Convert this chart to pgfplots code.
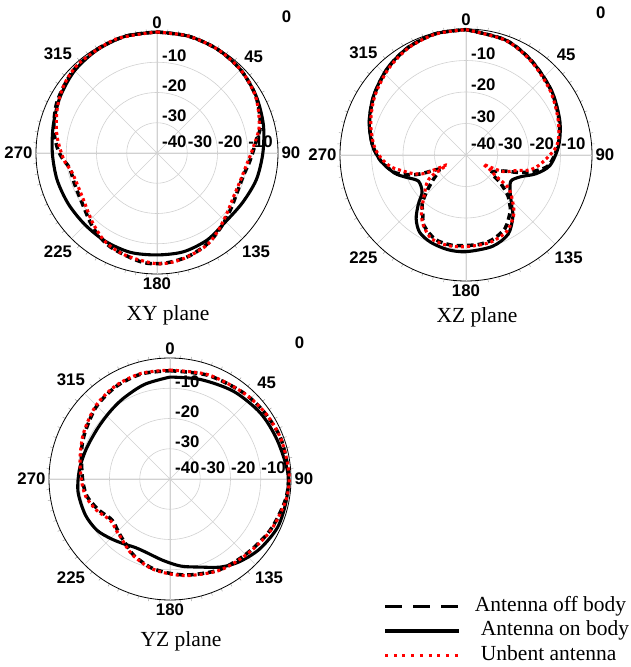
\documentclass[border=0pt]{standalone}
\usepackage{fontspec}
\setmainfont{Liberation Sans}
\newfontfamily\tnr{Liberation Serif}
\usepackage{pgfplots}
\pgfplotsset{compat=1.18}
\usepgfplotslibrary{polar}
\usepackage{pgfplotstable}

% ---------- XY plane ----------
\pgfplotstableread{
a g
0 0
15 0
30 -0.3
45 -1.0
60 -2.2
75 -3.6
90 -5.0
105 -6.0
120 -7.3
135 -7.9
150 -6.8
165 -6.2
180 -6.3
195 -6.0
210 -6.2
225 -6.4
240 -6.2
255 -5.8
270 -5.4
285 -4.5
300 -3.0
315 -1.5
330 -0.6
345 0
360 0
}\xys
\pgfplotstableread{
a g
0 0
15 0
30 -0.3
45 -1.0
60 -2.3
75 -4.6
85 -7.4
95 -9.2
105 -10.5
116 -10.5
127 -9.4
138 -7.8
150 -5.8
163 -4.3
176 -3.5
188 -3.6
206 -5.3
220 -7.4
237 -10.3
250 -10.9
260 -10.7
267 -8.6
273 -7.0
283 -5.0
297 -2.9
314 -1.2
330 -0.4
345 0
360 0
}\xyd
\pgfplotstableread{
a g
0 0
15 0
30 -0.3
45 -1.0
60 -2.4
75 -5.0
87 -8.2
98 -10.2
109 -11.0
119 -10.9
130 -9.6
141 -7.5
152 -5.3
167 -3.9
180 -3.4
197 -4.6
210 -6.0
223 -8.7
240 -11.4
257 -11.2
266 -9.1
280 -6.4
294 -3.9
307 -1.8
320 -0.7
340 0
360 0
}\xyr
% ---------- XZ plane ----------
\pgfplotstableread{
a g
0 -0.2
19 -1.4
35 -3.6
53 -6.0
70 -8.3
84 -10.4
97 -13.1
105 -17.0
111 -21.0
118 -23.3
123 -23.3
131 -21.4
138 -18.3
143 -15.3
152 -11.5
164 -9.8
180 -9.3
191 -9.4
202 -10.1
211 -11.4
218 -14.3
224 -18.2
229 -21.5
235 -22.6
241 -22.8
245 -21.8
250 -19.5
256 -16.5
266 -12.9
276 -10.1
289 -7.5
303 -5.1
318 -2.8
332 -1.2
346 -0.3
360 -0.2
}\xzs
\pgfplotstableread{
a g
0 -0.2
19 -1.4
35 -3.6
53 -6.1
70 -8.5
84 -10.6
97 -13.5
103 -17.5
108 -22.0
113 -27.0
120 -29.5
126 -30.0
129 -26.0
134 -21.5
138 -19.3
142 -17.2
152 -13.6
163 -11.8
172 -11.3
180 -11.3
189 -11.0
200 -11.5
211 -14.0
217 -17.2
222 -19.2
227 -22.9
233 -26.9
238 -29.5
243 -30.0
247 -25.0
250 -21.6
256 -16.8
266 -12.9
276 -10.2
289 -7.6
303 -5.2
318 -2.9
332 -1.2
346 -0.3
360 -0.2
}\xzd
\pgfplotstableread{
a g
0 -0.2
19 -1.5
35 -3.8
53 -6.4
70 -8.8
84 -11.0
96 -15.8
103 -19.1
107 -23.2
114 -27.0
117 -32.0
118 -33.8
122 -30.5
125 -28.8
128 -22.9
136 -18.5
142 -15.5
152 -12.5
165 -11.2
180 -10.9
191 -10.7
202 -11.2
211 -13.8
218 -17.0
227 -22.0
234 -24.6
238.5 -27.2
242.5 -33.1
244.5 -30.3
246 -25.6
250 -22.5
255 -19.8
261 -15.9
268 -13.0
276 -10.6
289 -8.0
303 -5.5
318 -3.2
332 -1.4
346 -0.4
360 -0.2
}\xzr
% ---------- YZ plane ----------
\pgfplotstableread{
a g
0 -6.3
17 -5.6
36 -4.2
54 -3.0
70 -2.3
87 -1.0
100 -0.9
114 -1.0
128 -2.4
140 -4.3
150 -6.4
161 -9.2
173 -11.0
185 -13.0
198 -14.5
207 -14.6
216 -13.6
225 -12.2
235 -10.5
247 -9.6
262 -9.3
276 -9.9
290 -10.6
305 -10.8
318 -10.2
330 -9.2
345 -7.6
360 -6.3
}\yzs
\pgfplotstableread{
a g
0 -4.2
20 -3.5
40 -2.6
55 -1.8
70 -1.0
87 -0.8
100 -1.2
117 -2.8
134 -4.6
151 -5.8
168 -7.6
180 -8.8
192 -10.0
205 -12.0
213 -13.8
219 -14.8
226 -15.8
232 -16.5
237 -16.3
247 -14.2
258 -12.0
268 -11.2
280 -10.3
290 -9.0
300 -7.8
315 -5.8
330 -4.6
345 -4.0
360 -4.2
}\yzd
\pgfplotstableread{
a g
0 -4.0
20 -3.3
40 -2.6
55 -1.7
70 -1.0
87 -0.6
100 -1.0
117 -2.6
134 -4.4
151 -5.6
168 -7.4
180 -8.6
192 -9.8
205 -11.8
213 -13.4
219 -14.6
226 -15.4
232 -16.0
237 -15.8
247 -13.6
258 -11.6
268 -10.8
280 -9.8
290 -8.7
300 -7.4
315 -5.5
330 -4.3
345 -3.8
360 -4.0
}\yzr

\pgfplotsset{
  pol/.style={
    scale only axis, anchor=center,
    xmin=0, xmax=360, ymin=0, ymax=40,
    xtick={0,45,...,315},
    xticklabels={90,45,0,315,270,225,180,135},
    ytick={10,20,30}, yticklabels={},
    xmajorgrids, ymajorgrids,
    major grid style={black!18, line width=0.6pt},
    extra x ticks={0,90,180,270}, extra x tick labels={},
    extra x tick style={grid style={black!35, line width=1.1pt}},
    minor x tick num=8,
    major tick length=0pt,
    minor tick length=3pt,
    minor tick style={black!35, line width=0.5pt},
    ytick style={draw=none},
    axis line style={black, line width=0.8pt},
    clip=false,
    tick label style={font=\bfseries\fontsize{16.8}{16.8}\selectfont},
  },
  on/.style={black, line width=3.1pt, smooth},
  off/.style={black, line width=3.5pt, dash pattern=on 6.5pt off 4pt, smooth},
  unb/.style={red, line width=3.1pt, dash pattern=on 3pt off 3pt, smooth},
}

\newcommand\decor[4]{%
  \begin{scope}[shift={(#1,#2)}, font=\bfseries\fontsize{16.8}{16.8}\selectfont, inner sep=0pt]
    \pgfmathsetmacro\u{#3/4}
    \node[anchor=west] at (5,11) {-40};
    \node[anchor=west] at (\u+0.5,11) {-30};
    \node[anchor=west] at (2*\u+0.5,11) {-20};
    \node[anchor=west] at (3*\u+0.5,11) {-10};
    \node[anchor=west] at (5,\u+7) {-30};
    \node[anchor=west] at (5,2*\u+7) {-20};
    \node[anchor=west] at (5,3*\u+7) {-10};
    \node at (1.07*#3,1.13*#3) {0};
    \node[font=\tnr\fontsize{21.5}{21.5}\selectfont] at (11,-162) {#4};
  \end{scope}}

\begin{document}
\begin{tikzpicture}[x=1pt,y=1pt]
\path[use as bounding box] (0,0) rectangle (630,667);

\begin{polaraxis}[pol, width=242pt, at={(157pt,514pt)}]
  \addplot[off] table[x expr=90-\thisrow{a}, y expr=\thisrow{g}+40]{\xyd};
  \addplot[on]  table[x expr=90-\thisrow{a}, y expr=\thisrow{g}+40]{\xys};
  \addplot[unb] table[x expr=90-\thisrow{a}, y expr=\thisrow{g}+40]{\xyr};
\end{polaraxis}
\decor{157}{514}{121}{XY plane}

\begin{polaraxis}[pol, width=252pt, at={(466pt,512pt)}]
  \addplot[off] table[x expr=90-\thisrow{a}, y expr=\thisrow{g}+40]{\xzd};
  \addplot[on]  table[x expr=90-\thisrow{a}, y expr=\thisrow{g}+40]{\xzs};
  \addplot[unb] table[x expr=90-\thisrow{a}, y expr=\thisrow{g}+40]{\xzr};
\end{polaraxis}
\decor{466}{512}{126}{XZ plane}

\begin{polaraxis}[pol, width=242pt, at={(170pt,188pt)},
    legend style={at={(1.38,0.013)}, anchor=north west, draw=none, fill=none,
      inner sep=0pt, row sep=5.5pt,
      font=\tnr\fontsize{21.5}{21.5}\selectfont,
      nodes={inner sep=0pt, text height=14pt, text depth=5pt},
      /tikz/every odd column/.append style={column sep=20pt}},
    legend cell align=left,
    legend image code/.code={\draw[#1] (0pt,0pt) -- (74pt,0pt);}]
  \addplot[off, legend image post style={dash pattern=on 17pt off 11pt, line width=3.6pt}]
    table[x expr=90-\thisrow{a}, y expr=\thisrow{g}+40]{\yzd};
  \addlegendentry{\hspace*{-6pt}Antenna off body}
  \addplot[on, legend image post style={line width=3.8pt}]
    table[x expr=90-\thisrow{a}, y expr=\thisrow{g}+40]{\yzs};
  \addlegendentry{Antenna on body}
  \addplot[unb, legend image post style={dash pattern=on 3pt off 5.7pt, line width=2.8pt}]
    table[x expr=90-\thisrow{a}, y expr=\thisrow{g}+40]{\yzr};
  \addlegendentry{Unbent antenna}
\end{polaraxis}
\decor{170}{188}{121}{YZ plane}

\end{tikzpicture}
\end{document}
